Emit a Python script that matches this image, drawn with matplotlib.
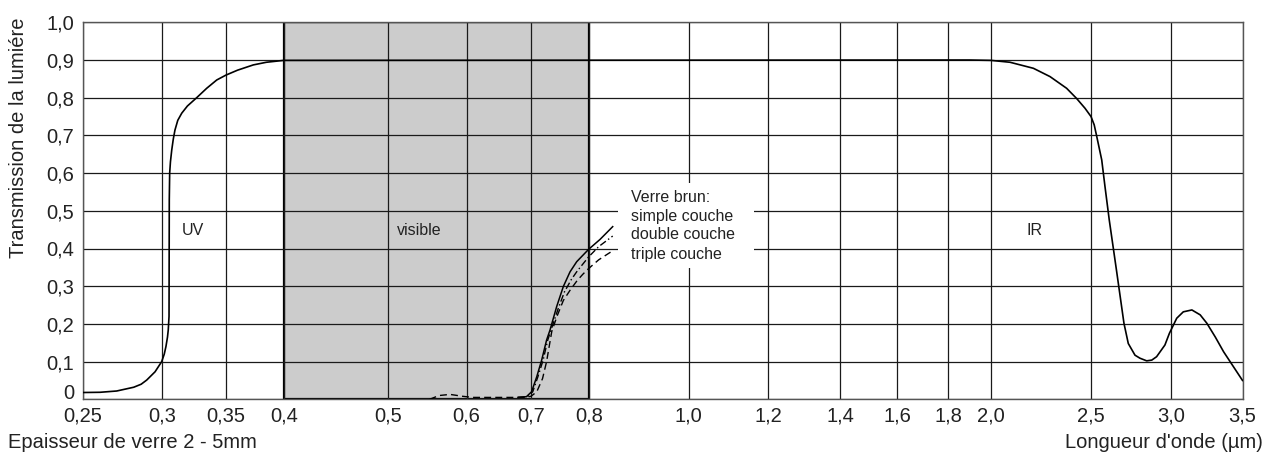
import numpy as np
import matplotlib
matplotlib.use("Agg")
import matplotlib.pyplot as plt
from matplotlib.patches import Rectangle

plt.rcParams['font.family'] = ['Liberation Sans', 'DejaVu Sans']

# ---- axis definition (non-linear wavelength axis) ----
tick_values = [0.25, 0.3, 0.35, 0.4, 0.5, 0.6, 0.7, 0.8, 1.0, 1.2, 1.4, 1.6, 1.8, 2.0, 2.5, 3.0, 3.5]
tick_labels = ["0,25", "0,3", "0,35", "0,4", "0,5", "0,6", "0,7", "0,8", "1,0", "1,2",
               "1,4", "1,6", "1,8", "2,0", "2,5", "3,0", "3,5"]
# position of each tick along the axis (pixels)
tick_frac_px = [82.7, 161.7, 226.0, 283.7, 388.0, 466.5, 531.0, 588.7, 688.7, 768.0,
                840.0, 897.2, 948.0, 991.0, 1091.0, 1171.0, 1242.5]
y_ticks = [0, 0.1, 0.2, 0.3, 0.4, 0.5, 0.6, 0.7, 0.8, 0.9, 1.0]
y_labels = ["0", "0,1", "0,2", "0,3", "0,4", "0,5", "0,6", "0,7", "0,8", "0,9", "1,0"]

# ---- data ----
glass_wl = [0.25, 0.261, 0.2715, 0.2823, 0.287, 0.2905, 0.2958, 0.300, 0.302, 0.3033,
            0.3045, 0.3051, 0.3057, 0.3059, 0.3062, 0.3068, 0.3078, 0.309, 0.3103, 0.3125,
            0.3156, 0.320, 0.3272, 0.335, 0.3428, 0.350, 0.360, 0.3737, 0.385, 0.40,
            1.90, 2.00, 2.095, 2.212, 2.295, 2.378, 2.428, 2.47, 2.50, 2.52, 2.536, 2.567,
            2.5875, 2.614, 2.66, 2.706, 2.733, 2.775, 2.806, 2.848, 2.88, 2.91, 2.962, 2.99,
            3.04, 3.086, 3.146, 3.204, 3.251, 3.31, 3.368, 3.50]
glass_t = [0.018, 0.0186, 0.022, 0.032, 0.04, 0.051, 0.073, 0.100, 0.12, 0.14,
           0.165, 0.184, 0.22, 0.53, 0.60, 0.63, 0.661, 0.69, 0.714, 0.74,
           0.759, 0.778, 0.80, 0.825, 0.847, 0.86, 0.873, 0.887, 0.894, 0.899,
           0.900, 0.899, 0.894, 0.878, 0.856, 0.825, 0.798, 0.772, 0.75, 0.728, 0.697, 0.635,
           0.564, 0.476, 0.34, 0.2016, 0.148, 0.117, 0.109, 0.102, 0.104, 0.113, 0.144, 0.175,
           0.215, 0.232, 0.237, 0.224, 0.2016, 0.165, 0.126, 0.05]

simple_wl = [0.68, 0.693, 0.701, 0.71, 0.7185, 0.727, 0.733, 0.7445, 0.756, 0.7676,
             0.7792, 0.80, 0.8226, 0.848]
simple_t = [0.005, 0.007, 0.02, 0.06, 0.104, 0.157, 0.184, 0.246, 0.299, 0.338,
            0.365, 0.398, 0.424, 0.458]

double_wl = [0.68, 0.6945, 0.703, 0.712, 0.721, 0.729, 0.736, 0.747, 0.758, 0.77,
             0.78, 0.80, 0.82, 0.848]
double_t = [0.005, 0.007, 0.02, 0.06, 0.104, 0.157, 0.19, 0.24, 0.285, 0.318,
            0.34, 0.378, 0.405, 0.433]

triple_wl = [0.553, 0.565, 0.579, 0.595, 0.61, 0.69, 0.70, 0.71, 0.72, 0.727, 0.736,
             0.745, 0.756, 0.768, 0.78, 0.79, 0.80, 0.82, 0.848]
triple_t = [0.0, 0.01, 0.013, 0.008, 0.005, 0.005, 0.008, 0.02, 0.055, 0.1, 0.18,
            0.22, 0.262, 0.29, 0.315, 0.332, 0.347, 0.37, 0.394]

W, H = 1265, 459
fig = plt.figure(figsize=(W / 100, H / 100), dpi=100)
ax_left, ax_right, ax_top, ax_bottom = 82.7, 1242.5, 22.3, 399.3
ax = fig.add_axes([ax_left / W, 1 - ax_bottom / H, (ax_right - ax_left) / W, (ax_bottom - ax_top) / H])

frac = (np.array(tick_frac_px) - tick_frac_px[0]) / (tick_frac_px[-1] - tick_frac_px[0])
tv = np.array(tick_values)

def fwd(x):
    return np.interp(x, tv, frac)

def inv(u):
    return np.interp(u, frac, tv)

ax.set_xscale('function', functions=(fwd, inv))
ax.set_xlim(0.25, 3.5)
ax.set_ylim(0, 1.0)

tc = '#222222'
ax.set_xticks(tick_values)
ax.set_xticklabels(tick_labels)
ax.set_yticks(y_ticks)
# the "0" label is placed separately (slightly raised) to keep it clear of "0,25"
ax.set_yticklabels([""] + y_labels[1:])
ax.tick_params(length=0, labelsize=14.5, colors=tc)
ax.tick_params(axis='x', pad=5.5)
ax.tick_params(axis='y', pad=6)
ax.annotate(y_labels[0], xy=(0, y_ticks[0]), xycoords=('axes fraction', 'data'),
            xytext=(-6, 4), textcoords='offset points', ha='right', va='center',
            fontsize=14.5, color=tc)

ax.set_axisbelow(True)
ax.grid(True, color='#1a1a1a', linewidth=0.9)
for s in ax.spines.values():
    s.set_color('#555555')
    s.set_linewidth(1.0)

# visible band
ax.axvspan(0.4, 0.8, facecolor='#cccccc', edgecolor='black', linewidth=1.6, zorder=0.2)

# annotation background
ax.add_patch(Rectangle((0.859, 0.347), 1.165 - 0.859, 0.574 - 0.347,
                       facecolor='white', edgecolor='none', zorder=1.5))

ax.plot(glass_wl, glass_t, color='black', linewidth=1.2, zorder=3)
ax.plot(simple_wl, simple_t, color='black', linewidth=1.1, zorder=3)
ax.plot(double_wl, double_t, color='black', linewidth=1.0, linestyle=(0, (5, 2, 1, 2)), zorder=3)
ax.plot(triple_wl, triple_t, color='black', linewidth=1.0, linestyle=(0, (5, 3)), zorder=3)

ax.text(0.3243, 0.447, "UV", fontsize=11.5, ha='center', va='center', color=tc)
ax.text(0.54, 0.447, "visible", fontsize=11.5, ha='center', va='center', color=tc)
ax.text(2.22, 0.447, "IR", fontsize=11.5, ha='center', va='center', color=tc)
for yy, s in zip([0.534, 0.4844, 0.436, 0.385],
                 ["Verre brun:", "simple couche", "double couche", "triple couche"]):
    ax.text(0.8846, yy, s, fontsize=11.5, ha='left', va='center', color=tc, zorder=4)

fig.text(8 / W, 1 - 442 / H, "Epaisseur de verre 2 - 5mm", fontsize=14.5, ha='left', va='center', color=tc)
fig.text(1263 / W, 1 - 442 / H, "Longueur d'onde (µm)", fontsize=14.5, ha='right', va='center', color=tc)
fig.text(18.3 / W, 1 - 138 / H, "Transmission de la lumiére", fontsize=14.5, rotation=90,
         ha='center', va='center', color=tc)

fig.savefig("out.png", dpi=100)
